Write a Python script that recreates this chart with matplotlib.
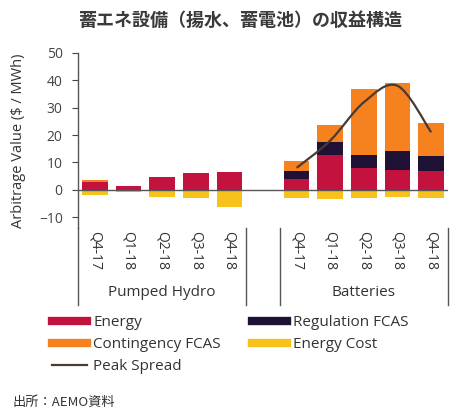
import numpy as np
import matplotlib
matplotlib.use("Agg")
import matplotlib.pyplot as plt
from matplotlib.path import Path
from matplotlib.patches import PathPatch
from matplotlib.lines import Line2D

plt.rcParams['font.family'] = ['Open Sans', 'Noto Sans CJK JP', 'DejaVu Sans']

# quarters per technology group
quarters = ['Q4-17', 'Q1-18', 'Q2-18', 'Q3-18', 'Q4-18']
groups = ['Pumped Hydro', 'Batteries']

# revenue components ($/MWh), pumped hydro then batteries
ph_energy = [3.0, 1.3, 4.6, 6.0, 6.3]
ph_regulation = [0.0, 0.0, 0.0, 0.0, 0.0]
ph_contingency = [0.4, 0.2, 0.0, 0.0, 0.0]
ph_cost = [-2.0, -1.0, -2.5, -3.0, -6.5]

bat_energy = [3.9, 12.8, 8.0, 7.2, 6.7]
bat_regulation = [3.0, 4.8, 4.8, 7.0, 5.5]
bat_contingency = [3.6, 6.0, 24.2, 25.0, 12.2]
bat_cost = [-3.0, -3.5, -3.0, -2.5, -3.0]

# peak spread for batteries
bat_spread = [8.0, 18.0, 32.0, 38.0, 21.0]

c_energy = '#c4123e'
c_reg = '#1f1035'
c_cont = '#f5821f'
c_cost = '#f8c21c'
c_spread = '#4a3a30'

fig = plt.figure(figsize=(4.5, 4.09), dpi=100)
W, H = 450, 409
ax = fig.add_axes([78 / W, (H - 228) / H, 370 / W, 175 / H])

x_ph = np.arange(5)
x_bat = np.arange(5) + 6
x_all = np.concatenate([x_ph, x_bat])
energy = np.array(ph_energy + bat_energy)
reg = np.array(ph_regulation + bat_regulation)
cont = np.array(ph_contingency + bat_contingency)
cost = np.array(ph_cost + bat_cost)

bw = 0.76
ax.bar(x_all, energy, bw, color=c_energy, label='Energy', zorder=2)
ax.bar(x_all, reg, bw, bottom=energy, color=c_reg, label='Regulation FCAS', zorder=2)
ax.bar(x_all, cont, bw, bottom=energy + reg, color=c_cont, label='Contingency FCAS', zorder=2)
ax.bar(x_all, cost, bw, color=c_cost, label='Energy Cost', zorder=2)

# smooth peak-spread curve (Catmull-Rom through the quarterly points)
px = np.array(x_bat, dtype=float)
py = np.array(bat_spread, dtype=float)
verts = [(px[0], py[0])]
codes = [Path.MOVETO]
for i in range(len(px) - 1):
    p0 = np.array([px[max(i - 1, 0)], py[max(i - 1, 0)]])
    p1 = np.array([px[i], py[i]])
    p2 = np.array([px[i + 1], py[i + 1]])
    p3 = np.array([px[min(i + 2, len(px) - 1)], py[min(i + 2, len(px) - 1)]])
    c1 = p1 + (p2 - p0) / 6
    c2 = p2 - (p3 - p1) / 6
    verts += [tuple(c1), tuple(c2), tuple(p2)]
    codes += [Path.CURVE4] * 3
ax.add_patch(PathPatch(Path(verts, codes), facecolor='none', edgecolor=c_spread,
                       lw=1.6, zorder=4))

ax.axhline(0, color='#555555', lw=1.0, zorder=3)

ax.set_xlim(-0.5, 10.5)
ax.set_ylim(-14, 50)
ax.set_yticks([-10, 0, 10, 20, 30, 40, 50])
ax.tick_params(axis='y', labelsize=10, colors='#444444', length=4, width=0.8, pad=7)
ax.set_xticks(x_all)
ax.set_xticklabels(quarters * 2, rotation=-90, fontsize=10, color='#333333')
ax.tick_params(axis='x', length=0, pad=2)
for s in ['top', 'right', 'bottom']:
    ax.spines[s].set_visible(False)
ax.spines['left'].set_color('#555555')
ax.spines['left'].set_linewidth(1.0)
ax.set_ylabel('Arbitrage Value ($ / MWh)', fontsize=10.5, color='#333333', labelpad=9)

# group separators and labels below the axis
for xs in [-0.5, 4.5, 5.5, 10.5]:
    ax.add_line(Line2D([xs, xs], [0, -0.44], transform=ax.get_xaxis_transform(),
                       color='#555555', lw=1.0, clip_on=False))
ax.text(2, -0.37, groups[0], transform=ax.get_xaxis_transform(), ha='center',
        va='center', fontsize=11, color='#333333')
ax.text(8, -0.37, groups[1], transform=ax.get_xaxis_transform(), ha='center',
        va='center', fontsize=11, color='#333333')

handles = [
    Line2D([], [], color=c_energy, lw=6),
    Line2D([], [], color=c_cont, lw=6),
    Line2D([], [], color=c_spread, lw=1.6),
    Line2D([], [], color=c_reg, lw=6),
    Line2D([], [], color=c_cost, lw=6),
]
labels = ['Energy', 'Contingency FCAS', 'Peak Spread', 'Regulation FCAS', 'Energy Cost']
fig.legend(handles, labels, ncol=2, frameon=False, fontsize=11, labelcolor='#333333',
           loc='upper left', bbox_to_anchor=(46 / W, (H - 309) / H),
           handlelength=2.3, handletextpad=0.4, columnspacing=2.0,
           labelspacing=0.45, borderaxespad=0)

fig.text(240 / W, (H - 20) / H, '蓄エネ設備（揚水、蓄電池）の収益構造', ha='center', va='center',
         fontsize=13, fontweight='bold', color='#3a3a3a',
         family=['Noto Sans CJK JP', 'DejaVu Sans'])
fig.text(12 / W, (H - 402) / H, '出所：AEMO資料', ha='left', va='center', fontsize=9.5,
         color='#333333', family=['Noto Sans CJK JP', 'DejaVu Sans'])

fig.savefig('out.png', dpi=100, facecolor='white')
